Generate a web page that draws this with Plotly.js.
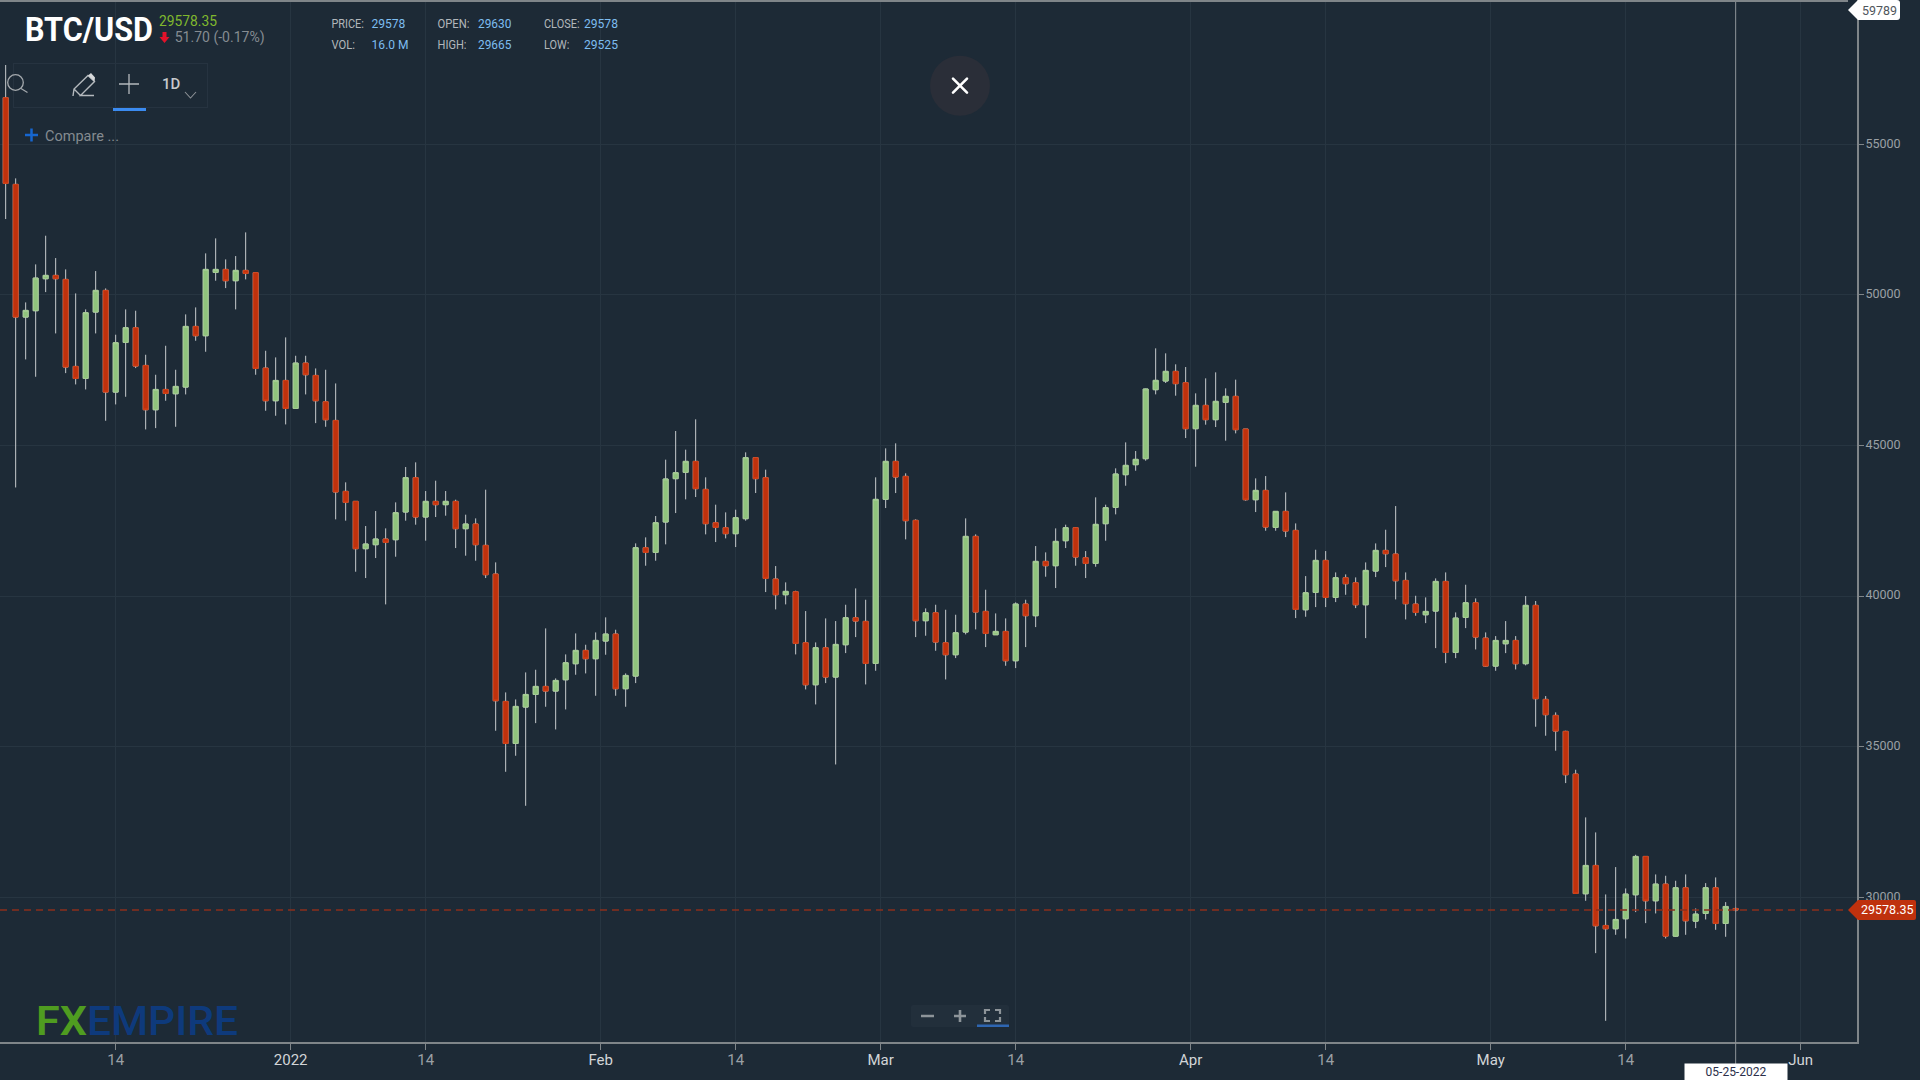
<!DOCTYPE html>
<html>
<head>
<meta charset="utf-8">
<title>BTC/USD</title>
<script src="https://cdn.plot.ly/plotly-3.0.1.min.js"></script>
<style>
html,body{margin:0;padding:0;background:#1d2a36;width:1920px;height:1080px;overflow:hidden}
#chart{position:absolute;left:0;top:0;width:1920px;height:1080px}
#chrome{position:absolute;left:0;top:0;pointer-events:none}
#chrome text{font-family:Roboto,sans-serif}
</style>
</head>
<body>
<div id="chart"></div>
<svg id="chrome" width="1920" height="1080" viewBox="0 0 1920 1080">
  <rect x="0" y="0" width="1848" height="2" fill="#7f8589"/>
  <text x="25" y="41" data-w="128" font-size="34" font-weight="700" fill="#ffffff">BTC/USD</text>
  <text x="159" y="26" data-w="58" font-size="15" fill="#80b82e">29578.35</text>
  <path d="M162.5 32h4v5h3l-5 6-5-6h3z" fill="#e2122a"/>
  <text x="174.7" y="42" data-w="90" font-size="15" fill="#868c92">51.70 (-0.17%)</text>
  <g font-size="13.5" fill="#b2b7bb">
    <text x="331.4" y="28" data-w="32.6">PRICE:</text>
    <text x="437.5" y="28" data-w="32">OPEN:</text>
    <text x="544" y="28" data-w="35.6">CLOSE:</text>
    <text x="331.4" y="49" data-w="23.6">VOL:</text>
    <text x="437.5" y="49" data-w="29">HIGH:</text>
    <text x="544" y="49" data-w="25.4">LOW:</text>
  </g>
  <g font-size="13.5" fill="#7dbdf0">
    <text x="371.4" y="28" data-w="34">29578</text>
    <text x="478" y="28" data-w="33.4">29630</text>
    <text x="584" y="28" data-w="34">29578</text>
    <text x="371.6" y="49" data-w="37">16.0 M</text>
    <text x="478" y="49" data-w="33.4">29665</text>
    <text x="584" y="49" data-w="34">29525</text>
  </g>
  <rect x="13.5" y="63.5" width="194" height="44" fill="none" stroke="#263340" stroke-width="1"/>
  <circle cx="15.5" cy="82.5" r="7.8" fill="none" stroke="#a4a9ad" stroke-width="1.3"/>
  <path d="M21 88.5L27.5 92.5" stroke="#a4a9ad" stroke-width="1.3" fill="none"/>
  <path d="M73 96L74 89L88 75.5L94.5 81.5L80.5 95.5H94M74 89L80.5 95.5" stroke="#b4b9bd" stroke-width="1.4" fill="none"/>
  <path d="M88 75.5L91 73L95 77.5L94.5 81.5z" fill="#d6d8da"/>
  <path d="M119 84H139M129 74V94" stroke="#b4b9bd" stroke-width="1.3" fill="none"/>
  <rect x="113" y="108" width="33" height="3" fill="#3b8bf0"/>
  <text x="162" y="89" font-size="15" font-weight="500" fill="#c6c9cc">1D</text>
  <path d="M185 92L190.5 98L196 92" stroke="#8d9297" stroke-width="1.1" fill="none"/>
  <path d="M25 135H38M31.5 128.5V141.5" stroke="#1666cf" stroke-width="2.5" fill="none"/>
  <text x="45" y="141" data-w="74" font-size="15" fill="#848a90">Compare ...</text>
  <circle cx="960" cy="85.7" r="30" fill="#2a2e38"/>
  <path d="M953 78.7L967 92.7M967 78.7L953 92.7" stroke="#ffffff" stroke-width="2.6" stroke-linecap="round" fill="none"/>
  <path d="M1848 10L1858 0H1897a3 3 0 0 1 3 3V17a3 3 0 0 1-3 3H1858z" fill="#ffffff"/>
  <text x="1862" y="15" data-w="35" font-size="13" fill="#50565c">59789</text>
  <text x="36" y="1035" data-w="51" font-size="40.5" font-weight="600" fill="#4f9c20">FX</text>
  <text x="87" y="1035" data-w="151" font-size="40.5" font-weight="500" fill="#0e3a7c">EMPIRE</text>
  <rect x="911" y="1005" width="98" height="22" rx="2" fill="#222f3b"/>
  <rect x="977" y="1024.5" width="32" height="2.5" fill="#2e66b2"/>
  <path d="M921 1016H934M954 1016H966M960 1010V1022" stroke="#8d9499" stroke-width="2.6" fill="none"/>
  <path d="M985 1014V1010H990M995 1010H1000V1014M1000 1017V1021H995M990 1021H985V1017" stroke="#8d9499" stroke-width="2.2" fill="none"/>
</svg>
<script>
// Daily BTC/USD candles, 2021-12-03 through 2022-05-25
const firstDay = "2021-12-03";
const openPrices = [
56548,53670,49264,49475,50537,50648,50515,47626,47227,49430,
50150,46773,48423,48910,47659,46187,46862,46718,46940,48954,
48644,50748,50847,50471,50814,50737,47571,46486,47161,46231,
47737,47327,46452,45833,43478,43146,41574,41707,41895,41873,
42792,43932,42626,43146,43035,43146,42238,42393,41685,40733,
36504,35109,36316,36736,37002,36847,37223,37755,38198,37921,
38508,38740,36925,37345,41607,41452,42460,43899,44109,44474,
43544,42437,42271,42072,42570,44596,43932,40567,40046,40146,
38452,37057,38286,37312,38386,39282,39161,37766,43212,44474,
43976,42515,39183,39448,38452,38054,38806,41983,39493,38718,
38828,37854,39736,39349,41153,41009,41839,42271,41275,41087,
42404,42946,44031,44363,44562,46853,47141,47462,47086,45558,
46333,45857,46433,46632,45547,43200,43510,42282,42813,42182,
39547,40123,41186,39957,40610,40444,39713,40831,41518,41396,
40521,39735,39381,39503,40488,38130,39293,39780,38606,37676,
38418,38529,37756,39693,36572,36040,35509,34092,30118,31059,
29066,28956,29288,30085,31358,29885,30439,28712,30317,29210,
29465,30317,29133,29630];
const highPrices = [
57633,53869,49751,51013,51965,51224,50847,50050,49519,50792,
50216,48678,49519,49475,48013,47349,48312,47515,49353,49585,
51379,51877,51179,51290,52076,50737,48146,47925,48589,47980,
47980,47559,47515,47061,43777,43157,42327,42825,42249,43113,
44286,44441,43489,43832,43489,43201,42703,42581,43533,41120,
36803,36570,37467,37556,38928,37268,38065,38762,38386,38795,
39294,38884,37434,41751,41950,42659,44530,45482,44862,45869,
43943,43035,42781,42869,44773,44596,44198,40998,40456,40179,
39504,38463,39260,39172,39714,40256,39880,43943,44906,45072,
44076,42548,39592,39714,39548,39382,42581,42050,40212,39426,
39260,39792,39880,41662,41452,42249,42371,42293,41496,43279,
43035,44242,45104,44817,46887,48226,48060,47695,47606,46732,
47230,47429,46898,47186,45547,43909,43986,42824,43444,42414,
40665,41540,41496,40787,40721,40621,41119,41750,42204,42990,
40787,40012,39957,40588,40787,39459,40378,39924,38795,38673,
39171,38673,40003,39837,36682,36140,35531,34236,32653,32155,
30096,31004,30295,31413,31358,30760,30716,30550,30760,29631,
30472,30660,29841,29665];
const lowPrices = [
52519,43607,47858,47283,50094,48722,47404,47028,46862,48722,
45821,46364,46618,47571,45534,45578,46486,45622,46696,48478,
48113,50471,50227,49519,50515,47349,46154,45988,45700,46231,
46696,45744,45622,42548,42504,40810,40600,41264,39725,41308,
42504,42371,41840,42626,42670,41596,41342,41175,40600,35530,
34168,34700,33039,35784,36327,35574,36238,37390,37434,36692,
38054,36692,36327,37113,41009,41175,41718,42758,43212,43290,
42050,41795,41917,41629,42504,43423,40135,39559,39725,38065,
36902,36404,37113,34411,38109,38640,37068,37522,42924,43422,
41884,38640,38685,38186,37234,37943,38729,38895,38308,38718,
37688,37611,38308,38972,40644,40268,41596,41009,40600,40976,
41839,42714,43665,44163,44496,46698,47075,46654,45248,44296,
45691,45614,45160,45403,43167,42791,42171,42171,41960,39271,
39315,39636,39636,39802,40045,39603,38606,40632,40964,39890,
39226,39348,39104,38274,37776,37942,38938,38230,37654,37521,
38108,37566,37701,35664,35365,34867,33793,30129,29885,28147,
25900,28756,28635,29509,29144,29465,28635,28690,28756,28978,
29266,28922,28690,29525];
const closePrices = [
53703,49264,49486,50559,50648,50537,47604,47227,49408,50150,
46773,48412,48910,47637,46187,46862,46729,46962,48954,48644,
50847,50847,50471,50814,50714,47559,46486,47161,46231,47737,
47349,46486,45855,43456,43113,41574,41729,41895,41784,42770,
43932,42626,43146,43035,43146,42238,42393,41707,40711,36526,
35109,36338,36736,37002,36847,37201,37788,38198,37921,38530,
38740,36925,37367,41607,41452,42437,43888,44098,44474,43567,
42404,42282,42072,42603,44596,43899,40589,40046,40157,38430,
37057,38286,37312,38397,39282,39172,37766,43212,44474,43954,
42504,39183,39448,38474,38054,38784,41983,39470,38762,38828,
37854,39736,39349,41153,41009,41817,42271,41297,41087,42382,
42935,44053,44341,44540,46876,47163,47462,47053,45558,46333,
45857,46466,46632,45525,43200,43510,42293,42813,42160,39558,
40112,41186,39957,40610,40411,39713,40854,41518,41407,40510,
39747,39459,39492,40488,38130,39271,39780,38640,37676,38529,
38529,37754,39693,36594,36063,35520,34070,30129,31059,29055,
28956,29266,30107,31358,29885,30439,28712,30317,29221,29443,
30317,29133,29697,29578];
const lastPrice = 29578.35;
const lastPriceLabel = "29578.35";
const crosshairDate = "2022-05-25 12:00";
const crosshairLabel = "05-25-2022";
const yTickVals = [30000,35000,40000,45000,50000,55000];
const xTickVals = ["2021-12-14 12:00","2022-01-01","2022-01-14 12:00","2022-02-01","2022-02-14 12:00","2022-03-01","2022-03-14 12:00","2022-04-01","2022-04-14 12:00","2022-05-01","2022-05-14 12:00","2022-06-01"];
const xTickLabels = ["14","2022","14","Feb","14","Mar","14","Apr","14","May","14","Jun"];
const xRange = ["2021-12-02 22:23","2022-06-06 15:11"];
const yRange = [25197,59791];

const DAY = 86400000;
const start = Date.parse(firstDay + "T12:00:00Z");
const dates = openPrices.map((_, i) => new Date(start + i * DAY).toISOString().slice(0,16).replace("T"," "));

const whiskerColor = "#c6cacd";
const green = "#8fc37c", greenEdge = "#a4cc92", red = "#bf310d", redEdge = "#d03c12";
const majorTick = "#d2d5d8", minorTick = "#9aa0a5";

const wicks = {
  type:"candlestick", x:dates, open:openPrices, high:highPrices, low:lowPrices, close:closePrices,
  increasing:{line:{color:whiskerColor,width:1},fillcolor:green},
  decreasing:{line:{color:whiskerColor,width:1},fillcolor:red},
  hoverinfo:"skip", showlegend:false
};
const bodies = {
  type:"candlestick", x:dates, open:openPrices, close:closePrices,
  high:openPrices.map((o,i)=>Math.max(o,closePrices[i])),
  low:openPrices.map((o,i)=>Math.min(o,closePrices[i])),
  increasing:{line:{color:greenEdge,width:1},fillcolor:green},
  decreasing:{line:{color:redEdge,width:1},fillcolor:red},
  hoverinfo:"skip", showlegend:false
};

const plotH = 1042, plotW = 1857;
const layout = {
  width:1920, height:1080, autosize:false,
  margin:{l:0,r:1920-plotW,t:0,b:1080-plotH,pad:0},
  paper_bgcolor:"#1d2a36", plot_bgcolor:"#1d2a36",
  font:{family:"Roboto, sans-serif"},
  showlegend:false, dragmode:false, hovermode:false,
  xaxis:{
    type:"date", range:xRange, rangeslider:{visible:false}, fixedrange:true,
    tickmode:"array", tickvals:xTickVals,
    ticktext:xTickLabels.map(t=>t==="14"?t:'<span style="color:'+majorTick+'">'+t+'</span>'),
    tickangle:0, ticks:"outside", ticklen:6, tickwidth:1, tickcolor:"#7f8589",
    ticklabelstandoff:-3,
    tickfont:{size:15,color:minorTick,family:"Roboto, sans-serif"},
    showgrid:true, gridcolor:"#273541", gridwidth:1, zeroline:false,
    showline:true, linecolor:"#7f8589", linewidth:2
  },
  yaxis:{
    side:"right", range:yRange, fixedrange:true,
    tickmode:"array", tickvals:yTickVals, ticktext:yTickVals.map(String),
    ticks:"outside", ticklen:5, tickwidth:1, tickcolor:"#7f8589",
    ticklabelshift:-1, ticklabelstandoff:-1,
    tickfont:{size:12.5,color:minorTick,family:"Roboto, sans-serif"},
    showgrid:true, gridcolor:"#273541", gridwidth:1, zeroline:false,
    showline:true, linecolor:"#7f8589", linewidth:2
  },
  shapes:[
    {type:"line",xref:"paper",yref:"y",x0:0,x1:1848/plotW,y0:lastPrice,y1:lastPrice,
     line:{color:"#8a2f1c",width:1.5,dash:"7px,5px"}},
    {type:"line",xref:"x",yref:"paper",x0:crosshairDate,x1:crosshairDate,y0:-22/plotH,y1:1,
     line:{color:"#8f959a",width:1}},
    {type:"path",xref:"paper",yref:"y",xsizemode:"pixel",ysizemode:"pixel",
     xanchor:1,yanchor:lastPrice,
     path:"M -9 0 L 1 -10 L 57 -10 Q 59 -10 59 -8 L 59 8 Q 59 10 57 10 L 1 10 Z",
     fillcolor:"#bf310d",line:{width:0}}
  ],
  annotations:[
    {xref:"paper",yref:"y",x:1,y:lastPrice,xanchor:"left",yanchor:"middle",xshift:2,yshift:1,
     text:lastPriceLabel,showarrow:false,font:{size:12.5,color:"#ffffff"}},
    {xref:"x",yref:"paper",x:crosshairDate,y:-(1072-plotH)/plotH,xanchor:"center",yanchor:"middle",
     text:crosshairLabel,showarrow:false,bgcolor:"#ffffff",width:102,height:16,borderpad:0,
     font:{size:12,color:"#2b2f4a"}}
  ]
};
Plotly.newPlot("chart",[wicks,bodies],layout,{displayModeBar:false,staticPlot:true});

// Fit the condensed header texts to their measured widths.
document.querySelectorAll("#chrome text[data-w]").forEach(t=>{
  const natural = t.getComputedTextLength();
  const target = parseFloat(t.getAttribute("data-w"));
  const x = t.getAttribute("x"), y = t.getAttribute("y");
  t.setAttribute("x",0); t.setAttribute("y",0);
  t.setAttribute("transform","translate("+x+" "+y+") scale("+(target/natural)+" 1)");
});
</script>
</body>
</html>
